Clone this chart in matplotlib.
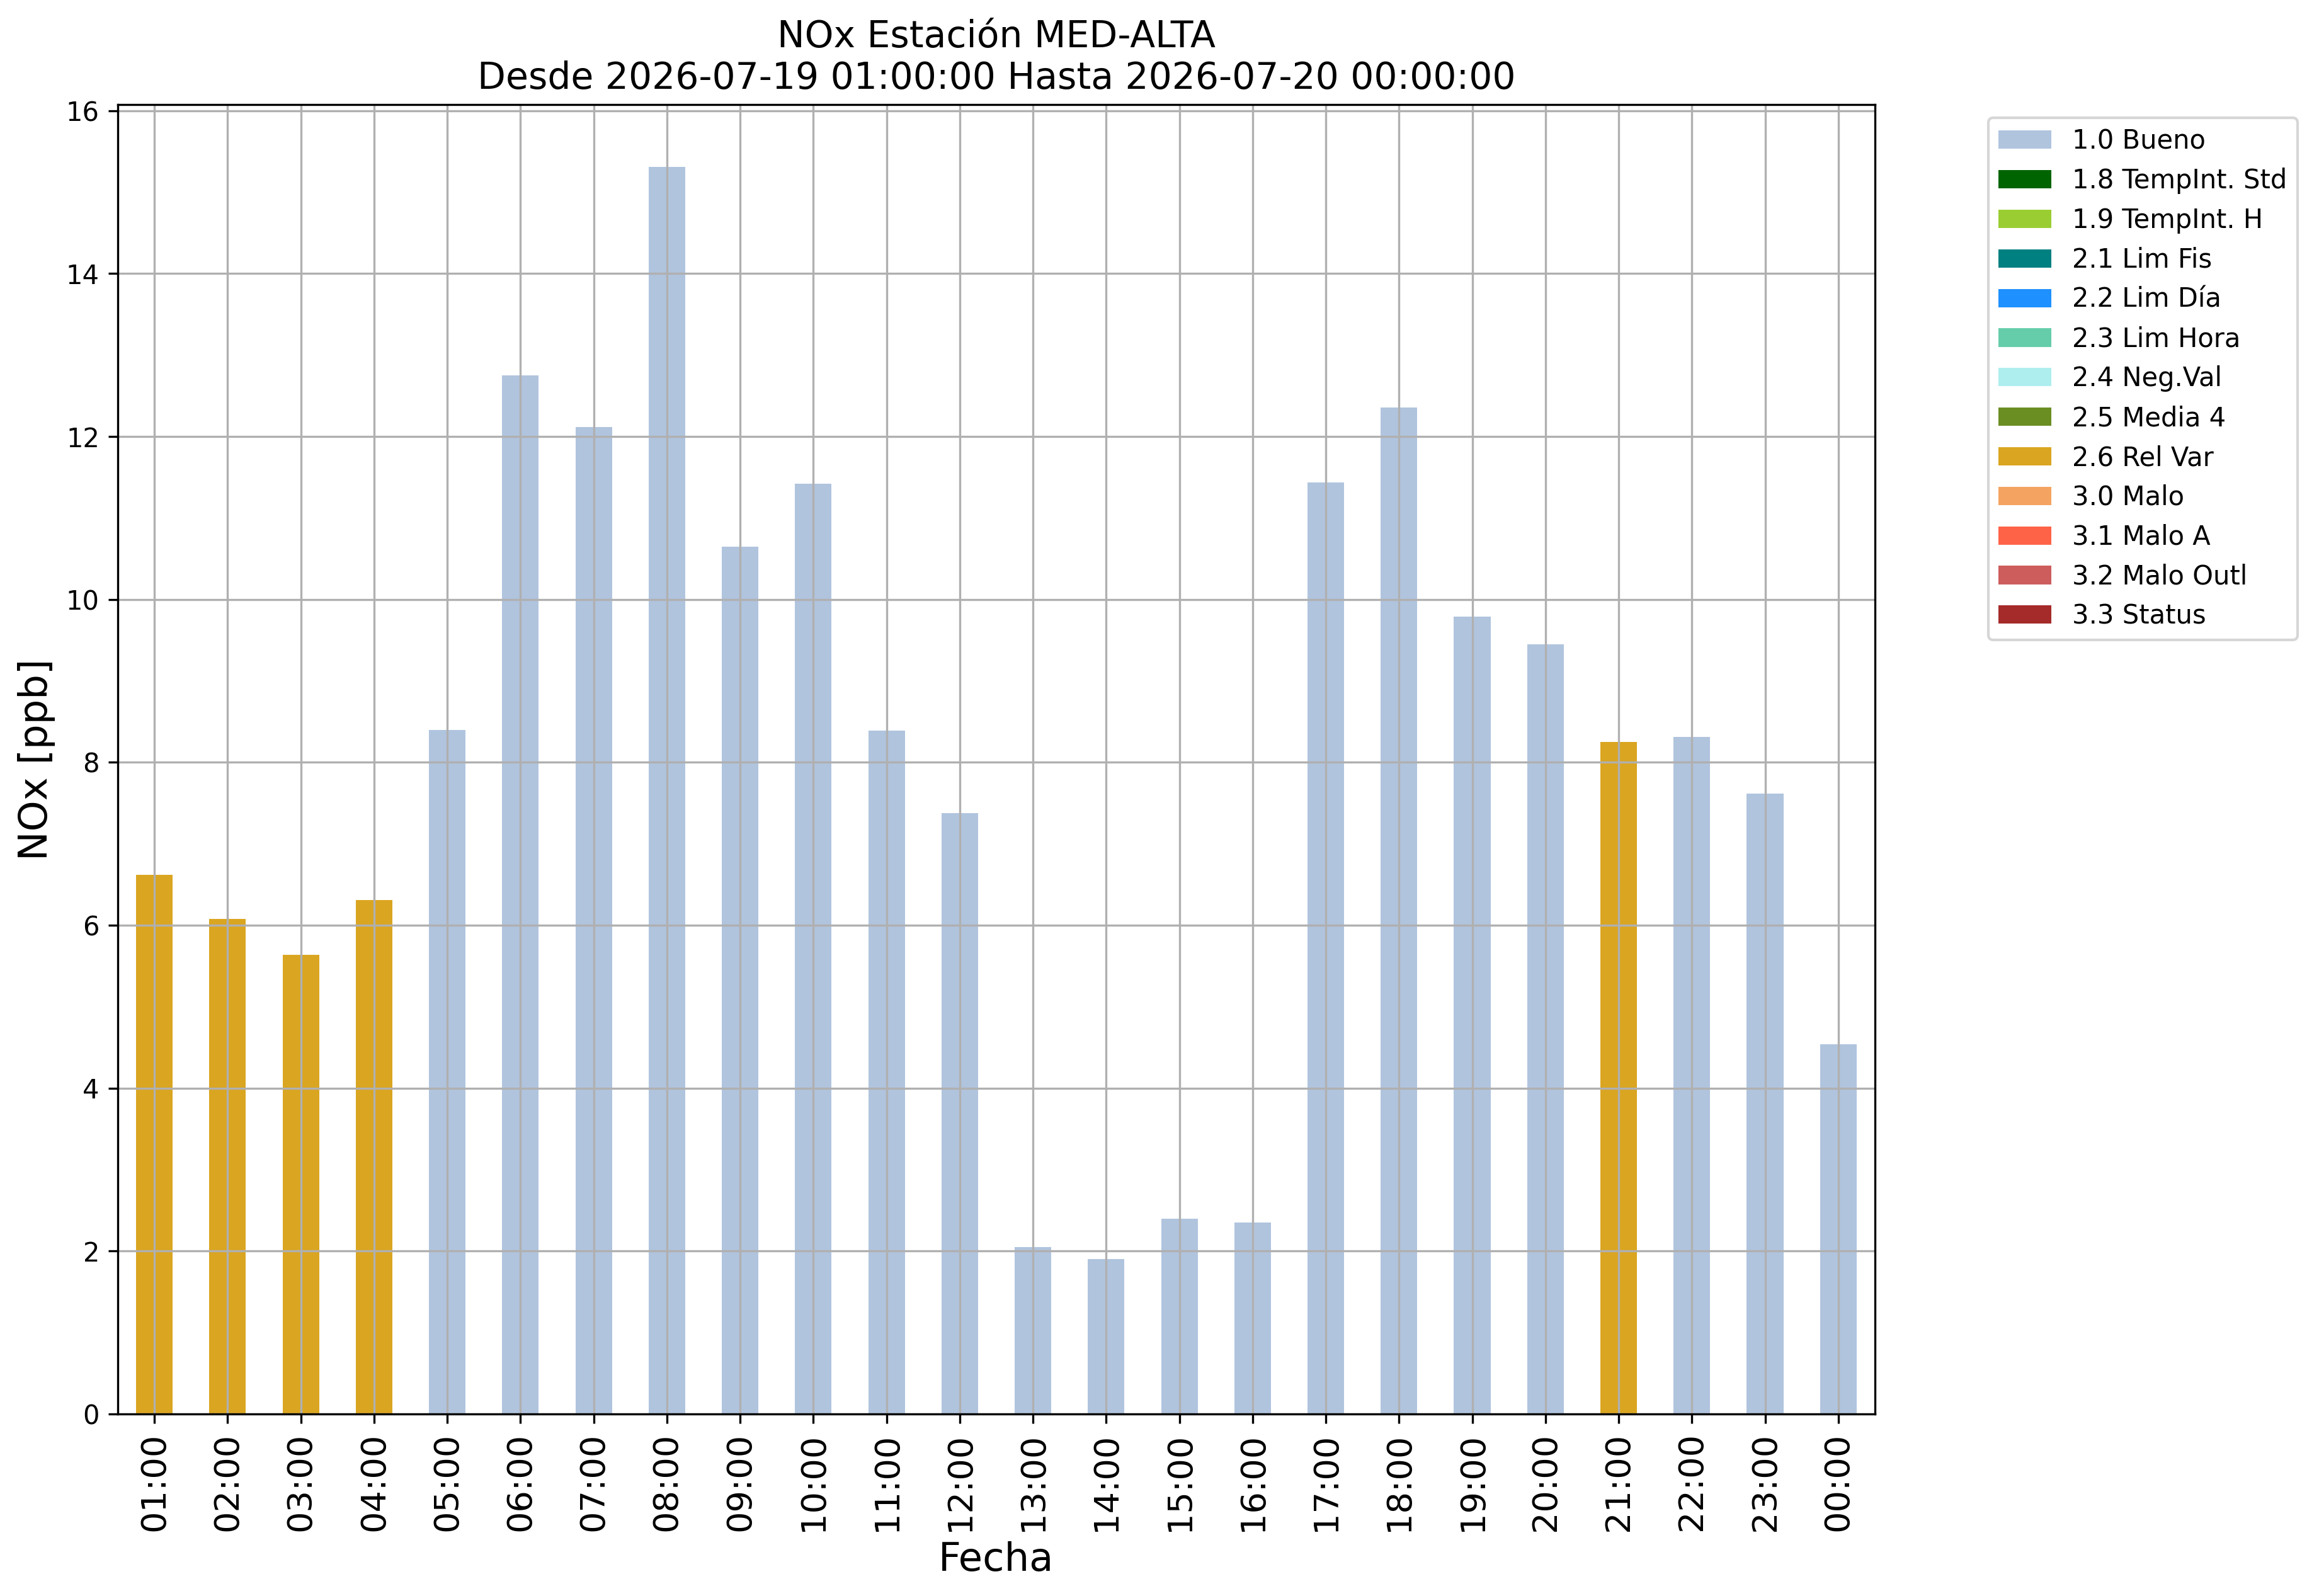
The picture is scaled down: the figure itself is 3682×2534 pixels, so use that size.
import numpy as np
import matplotlib
matplotlib.use('Agg')
import matplotlib.pyplot as plt

# hourly NOx values and the quality flag of each hour
horas = ['01:00', '02:00', '03:00', '04:00', '05:00', '06:00', '07:00', '08:00',
         '09:00', '10:00', '11:00', '12:00', '13:00', '14:00', '15:00', '16:00',
         '17:00', '18:00', '19:00', '20:00', '21:00', '22:00', '23:00', '00:00']
nox = [6.62, 6.08, 5.64, 6.31, 8.40, 12.75, 12.12, 15.31,
       10.65, 11.42, 8.39, 7.38, 2.05, 1.90, 2.40, 2.35,
       11.44, 12.36, 9.79, 9.45, 8.25, 8.31, 7.62, 4.54]
flag = ['2.6 Rel Var', '2.6 Rel Var', '2.6 Rel Var', '2.6 Rel Var', '1.0 Bueno', '1.0 Bueno',
        '1.0 Bueno', '1.0 Bueno', '1.0 Bueno', '1.0 Bueno', '1.0 Bueno', '1.0 Bueno',
        '1.0 Bueno', '1.0 Bueno', '1.0 Bueno', '1.0 Bueno', '1.0 Bueno', '1.0 Bueno',
        '1.0 Bueno', '1.0 Bueno', '2.6 Rel Var', '1.0 Bueno', '1.0 Bueno', '1.0 Bueno']

# all flags shown in the legend, with their colours
flags = ['1.0 Bueno', '1.8 TempInt. Std', '1.9 TempInt. H', '2.1 Lim Fis', '2.2 Lim Día',
         '2.3 Lim Hora', '2.4 Neg.Val', '2.5 Media 4', '2.6 Rel Var', '3.0 Malo',
         '3.1 Malo A', '3.2 Malo Outl', '3.3 Status']
colores = ['lightsteelblue', 'darkgreen', 'yellowgreen', 'teal', 'dodgerblue',
           'mediumaquamarine', 'paleturquoise', 'olivedrab', 'goldenrod', 'sandybrown',
           'tomato', 'indianred', 'brown']

x = np.arange(len(horas))
valores = np.array(nox)
banderas = np.array(flag)

fig = plt.figure(figsize=(3682/300, 2534/300), dpi=300)
ax = fig.add_axes([0.0508, 0.1140, 0.7577, 0.8205])

bottom = np.zeros(len(horas))
for f, c in zip(flags, colores):
    h = np.where(banderas == f, valores, 0.0)
    ax.bar(x, h, width=0.5, bottom=bottom, color=c, label=f, linewidth=0)
    bottom += h

ax.set_xlim(-0.5, len(horas) - 0.5)
ax.set_ylim(0, valores.max() * 1.05)
ax.set_xticks(x)
ax.set_xticklabels(horas, rotation=90, fontsize=13)
ax.tick_params(axis='y', labelsize=10)
ax.grid(True)
ax.set_xlabel('Fecha', fontsize=15)
ax.set_ylabel('NOx [ppb]', fontsize=15)
ax.set_title('NOx Estación MED-ALTA\nDesde 2026-07-19 01:00:00 Hasta 2026-07-20 00:00:00',
             fontsize=14)
ax.legend(bbox_to_anchor=(1.057, 1), loc='upper left', fontsize=10)

fig.savefig('out.png', dpi=300)
